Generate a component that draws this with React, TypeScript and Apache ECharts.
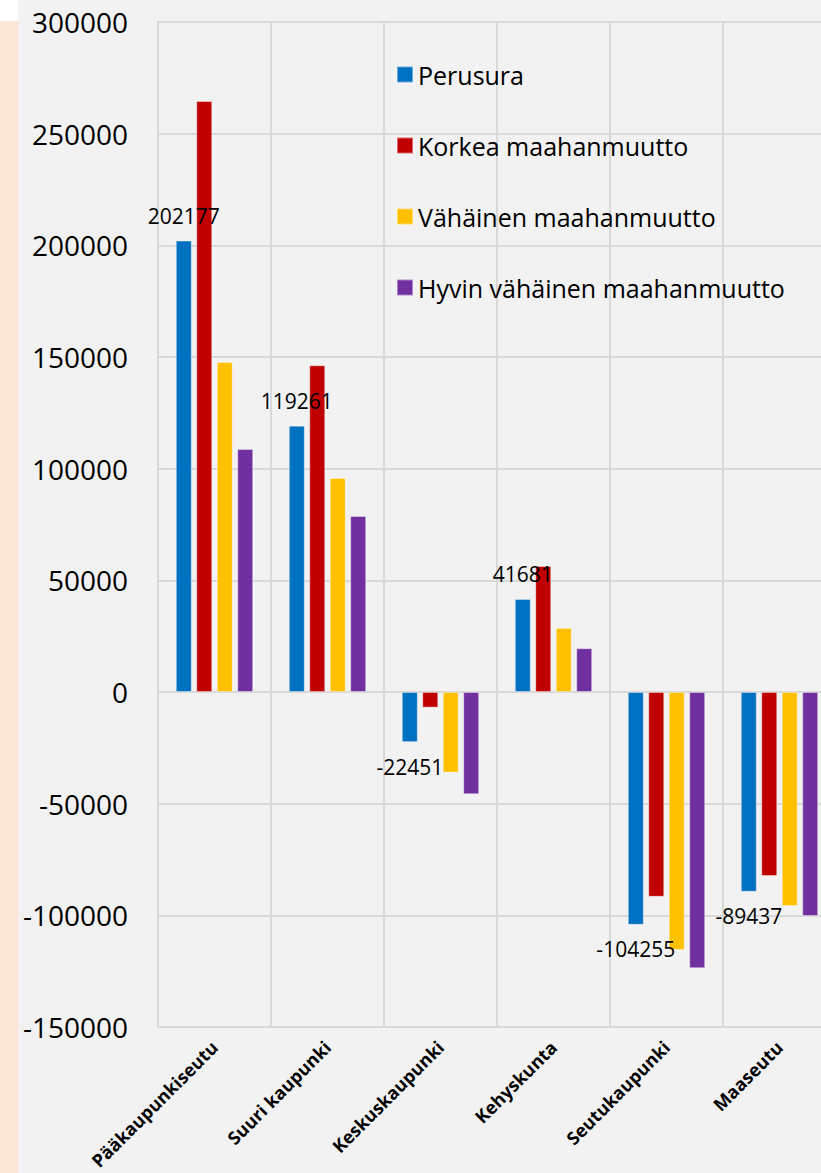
import React, { useEffect, useRef } from "react";
import * as echarts from "echarts";

const categories = [
  "Pääkaupunkiseutu",
  "Suuri kaupunki",
  "Keskuskaupunki",
  "Kehyskunta",
  "Seutukaupunki",
  "Maaseutu",
];
const seriesNames = [
  "Perusura",
  "Korkea maahanmuutto",
  "Vähäinen maahanmuutto",
  "Hyvin vähäinen maahanmuutto",
];
const perusura = [202177, 119261, -22451, 41681, -104255, -89437];
const korkea = [264600, 146300, -7000, 56400, -91700, -82400];
const vahainen = [147800, 95800, -36100, 28700, -115500, -95800];
const hyvinVahainen = [108800, 78800, -45800, 19600, -123700, -100300];
const colors = ["#0070C0", "#C00000", "#FFC000", "#7030A0"];
const yMin = -150000;
const yMax = 300000;
const yStep = 50000;

const FONT = "'Open Sans', 'Liberation Sans', sans-serif";

export default function App() {
  const ref = useRef<HTMLDivElement>(null);
  useEffect(() => {
    document.body.style.margin = "0";
    const chart = echarts.init(ref.current!, null, { renderer: "svg" });
    const allValues = [perusura, korkea, vahainen, hyvinVahainen];
    const series = allValues.map((vals, i) => ({
      name: seriesNames[i],
      type: "bar",
      barWidth: 16,
      barGap: "28%",
      itemStyle: {
        color: colors[i],
        borderColor: "rgba(255,255,255,0.4)",
        borderWidth: 1,
      },
      label:
        i === 0
          ? {
              show: true,
              fontSize: 21,
              fontFamily: FONT,
              color: "#000",
              distance: 14,
            }
          : { show: false },
      data:
        i === 0
          ? vals.map((v) => ({
              value: v,
              label: { position: v >= 0 ? "top" : "bottom" },
            }))
          : vals,
    }));
    chart.setOption({
      animation: false,
      backgroundColor: "#ffffff",
      graphic: [
        { type: "rect", shape: { x: 18, y: 0, width: 830, height: 1173 }, style: { fill: "#F2F2F2" }, z: -10, silent: true },
        { type: "rect", shape: { x: 0, y: 21, width: 18, height: 1152 }, style: { fill: "#FBE5D6" }, z: -10, silent: true },
      ],
      legend: {
        orient: "vertical",
        left: 391,
        top: 57,
        itemWidth: 16,
        itemHeight: 16,
        itemGap: 46,
        icon: "rect",
        data: seriesNames,
        textStyle: { fontSize: 25, fontFamily: FONT, color: "#000" },
      },
      grid: { left: 158, top: 22, right: 0, bottom: 146, containLabel: false },
      xAxis: {
        type: "category",
        data: categories,
        axisTick: { show: false },
        axisLine: { show: true, lineStyle: { color: "#D9D9D9", width: 2 } },
        splitLine: { show: true, lineStyle: { color: "#D9D9D9", width: 2 } },
        axisLabel: {
          interval: 0,
          rotate: 45,
          margin: 17,
          fontSize: 18,
          fontWeight: "bold",
          fontFamily: FONT,
          color: "#000",
        },
      },
      yAxis: {
        type: "value",
        min: yMin,
        max: yMax,
        interval: yStep,
        axisLine: { show: true, lineStyle: { color: "#D9D9D9", width: 2 } },
        axisTick: { show: false },
        splitLine: { show: true, lineStyle: { color: "#D9D9D9", width: 2 } },
        axisLabel: {
          margin: 30,
          fontSize: 28,
          fontFamily: FONT,
          color: "#000",
          formatter: (v: number) => String(v),
        },
      },
      series,
    });
    return () => chart.dispose();
  }, []);
  return (
    <div style={{ width: 821, height: 1173, overflow: "hidden", position: "relative" }}>
      <div ref={ref} style={{ width: 836, height: 1173 }} />
    </div>
  );
}
